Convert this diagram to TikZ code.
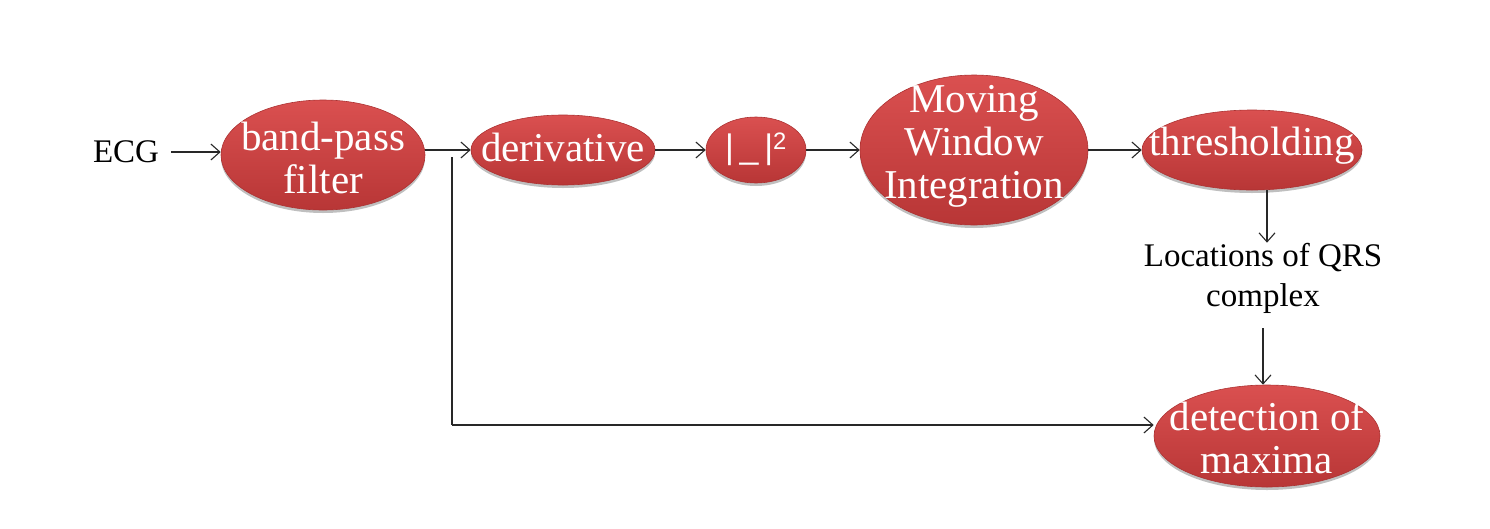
\documentclass[tikz,border=0pt]{standalone}
\usepackage{fontspec}
\setmainfont{Liberation Serif}
\setsansfont{Liberation Sans}
\usetikzlibrary{shapes.geometric,arrows.meta,shadows}
\definecolor{blobtop}{RGB}{218,80,80}
\definecolor{blobbot}{RGB}{184,54,54}
\definecolor{blobedge}{RGB}{172,50,50}
\definecolor{linec}{RGB}{40,40,40}
\tikzset{
  blob/.style={ellipse, inner sep=0pt, top color=blobtop, bottom color=blobbot,
    draw=blobedge, line width=0.6pt,
    drop shadow={shadow xshift=0pt, shadow yshift=-3pt, opacity=0.25, fill=black}},
  wtext/.style={text=white, font=\fontsize{41}{43}\selectfont, align=center, inner sep=0pt},
  btext/.style={text=black, font=\fontsize{33}{40}\selectfont, align=center, inner sep=0pt},
  conn/.style={draw=linec, line width=1.1pt, -{Straight Barb[length=9pt,width=16pt,line width=1.1pt]}},
  plain/.style={draw=linec, line width=1.1pt}
}
\begin{document}
\begin{tikzpicture}[x=1pt,y=-1pt]
\useasboundingbox (0,0) rectangle (1490,528);
% nodes
\node[btext] (ecg) at (126,152) {ECG};
\node[blob, minimum width=204pt, minimum height=110pt] (bp) at (323,155) {};
\node[wtext] (bpt) at (323,158) {band-pass\\filter};
\node[blob, minimum width=184pt, minimum height=70pt] (der) at (563,150) {};
\node[wtext] (dert) at (563,147) {derivative};
\node[blob, minimum width=100pt, minimum height=66pt] (sq) at (756,150) {};
\node[text=white, font=\sffamily\fontsize{34}{40}\selectfont, inner sep=0pt] (sqt) at (756,149) {|\,\_\,|\textsuperscript{2}};
\node[blob, minimum width=228pt, minimum height=150pt] (mwi) at (974,150) {};
\node[wtext] (mwit) at (974,146) {Moving\\Window\\Integration};
\node[blob, minimum width=220pt, minimum height=80pt] (thr) at (1252,150) {};
\node[wtext] (thrt) at (1252,146) {thresholding};
\node[btext] (loc) at (1263,278) {Locations of QRS\\complex};
\node[blob, minimum width=226pt, minimum height=102pt] (det) at (1267,436) {};
\node[wtext] (dett) at (1267,438) {detection of\\maxima};
% connectors
\draw[conn] (ecg.east) ++(12,0) coordinate (ecgout) -- (bp.west |- ecgout);
\draw[conn] (bp.east |- der.west) -- (der.west);
\draw[conn] (der.east) -- (sq.west);
\draw[conn] (sq.east) -- (mwi.west);
\draw[conn] (mwi.east) -- (thr.west);
\coordinate (br) at (452,157);
\coordinate (bc) at (452,425);
\draw[plain] (br) -- (bc);
\draw[conn] (bc) -- (det.west |- bc);
\coordinate (thrdown) at (1267,190);
\draw[conn] (thrdown) -- (loc.north -| thrdown);
\coordinate (locdown) at (1263,328);
\draw[conn] (locdown) -- (det.north -| locdown);
\end{tikzpicture}
\end{document}
